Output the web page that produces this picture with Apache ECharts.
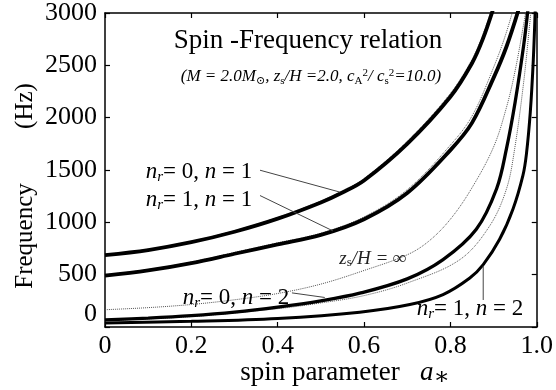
<!DOCTYPE html>
<html>
<head>
<meta charset="utf-8">
<script src="https://cdn.jsdelivr.net/npm/echarts@6/dist/echarts.min.js"></script>
<style>
  html, body { margin: 0; padding: 0; background: #fff; }
  #main { width: 556px; height: 390px; }
</style>
</head>
<body>
<div id="main"></div>
<script>
// spin parameter samples + frequency (Hz), one pair per curve
const aN01 = [0, 0.1, 0.2, 0.3, 0.4, 0.5, 0.55, 0.6, 0.7, 0.8, 0.85, 0.875, 0.9]
const fN01 = [687, 735, 810, 910, 1035, 1190, 1285, 1400, 1750, 2200, 2520, 2750, 3050]
const fN01inf = [693, 742, 818, 920, 1047, 1204, 1300, 1418, 1775, 2232, 2555, 2790, 3095]

const aN11 = [0, 0.1, 0.2, 0.3, 0.4, 0.5, 0.6, 0.7, 0.8, 0.85, 0.9, 0.93, 0.96]
const fN11 = [490, 540, 610, 700, 790, 880, 1030, 1280, 1690, 1950, 2380, 2680, 3060]
const fN11inf = [498, 549, 620, 712, 804, 896, 1052, 1312, 1738, 2015, 2480, 2820, 3250]

const aZinf = [0, 0.1, 0.2, 0.3, 0.4, 0.5, 0.6, 0.7, 0.75, 0.8, 0.85, 0.9, 0.93, 0.95, 0.97, 0.98]
const fZinf = [165, 185, 215, 260, 320, 410, 540, 690, 820, 1030, 1330, 1720, 2100, 2450, 2900, 3150]

const aN02 = [0, 0.1, 0.2, 0.3, 0.4, 0.5, 0.59, 0.7, 0.783, 0.86, 0.907, 0.93, 0.95, 0.97, 0.98]
const fN02 = [69, 85, 108, 142, 190, 250, 323, 460, 644, 934, 1321, 1707, 2150, 2700, 3050]
const aN02thin = [0, 0.2, 0.4, 0.5, 0.6, 0.7, 0.822, 0.891, 0.93, 0.949, 0.97, 0.985, 0.99]
const fN02thin = [62, 100, 175, 230, 300, 420, 644, 966, 1321, 1707, 2350, 2950, 3150]

const aN12 = [0, 0.2, 0.4, 0.59, 0.706, 0.783, 0.845, 0.876, 0.914, 0.945, 0.968, 0.976, 0.985, 0.992, 0.997]
const fN12 = [38, 54, 82, 142, 215, 310, 468, 596, 838, 1128, 1449, 1650, 2050, 2550, 3100]

// leader lines from the labels to their curves (data coords)
const leaderN01 = [[0.359, 1498], [0.544, 1289]]
const leaderN11 = [[0.359, 1256], [0.528, 918]]
const leaderN02 = [[0.433, 326], [0.509, 282]]
const leaderN12 = [[0.876, 258], [0.876, 585]]

const serif = "'Liberation Serif', 'DejaVu Serif', serif"
const zip = (xs, ys) => xs.map((x, i) => [x, ys[i]])

const chart = echarts.init(document.getElementById('main'))

const thick = (name, a, f, w) => ({
  name, type: 'line', data: zip(a, f), showSymbol: false, smooth: 0.35,
  lineStyle: { color: '#000', width: w }, z: 3, silent: true
})
const thin = (name, a, f) => ({
  name, type: 'line', data: zip(a, f), showSymbol: false, smooth: 0.35,
  lineStyle: { color: '#555', width: 1, type: 'dotted' }, z: 2, silent: true
})
const leader = (d) => ({
  type: 'line', data: d, showSymbol: false, silent: true,
  lineStyle: { color: '#444', width: 1 }, z: 4
})

const axisCommon = {
  type: 'value',
  axisLine: { show: true, onZero: false, lineStyle: { color: '#000', width: 1.5 } },
  axisTick: { show: true, inside: true, length: 5, lineStyle: { color: '#000', width: 1.2 } },
  splitLine: { show: false }
}

const ital = { fontFamily: serif, fontSize: 23, fontStyle: 'italic', fill: '#000' }
const sub = { fontFamily: serif, fontSize: 15, fontStyle: 'italic', padding: [10, 0, 0, 0], fill: '#000' }
const nLabel = (text, x, y) => ({
  type: 'text', x, y, z: 10,
  style: { text, fontFamily: serif, fontSize: 23, fill: '#000', align: 'center', verticalAlign: 'middle', rich: { i: ital, r: sub } }
})

chart.setOption({
  animation: false,
  textStyle: { fontFamily: serif },
  grid: { left: 105, right: 19, top: 13, bottom: 63 },
  xAxis: [
    Object.assign({}, axisCommon, {
      position: 'bottom', min: 0, max: 1, interval: 0.2,
      axisLabel: {
        fontFamily: 'Liberation Serif', fontSize: 26, color: '#000', margin: 6,
        formatter: v => (v === 0 ? '0' : v.toFixed(1))
      }
    }),
    Object.assign({}, axisCommon, {
      position: 'top', min: 0, max: 1, interval: 0.2, axisLabel: { show: false }
    })
  ],
  yAxis: [
    Object.assign({}, axisCommon, {
      position: 'left', min: 0, max: 3000, interval: 500,
      axisLabel: {
        fontFamily: 'Liberation Serif', fontSize: 26, color: '#000', margin: 8, verticalAlignMinLabel: 'bottom',
        formatter: v => String(v)
      }
    }),
    Object.assign({}, axisCommon, {
      position: 'right', min: 0, max: 3000, interval: 500, axisLabel: { show: false }
    })
  ],
  series: [
    thin('n0n1 inf', aN01, fN01inf),
    thick('n_r=0, n=1', aN01, fN01, 3.8),
    thin('n1n1 inf', aN11, fN11inf),
    thick('n_r=1, n=1', aN11, fN11, 3.8),
    thin('z_s/H=inf', aZinf, fZinf),
    thin('n0n2 thin', aN02thin, fN02thin),
    thick('n_r=0, n=2', aN02, fN02, 3.3),
    thick('n_r=1, n=2', aN12, fN12, 3),
    leader(leaderN01),
    leader(leaderN11),
    leader(leaderN02),
    leader(leaderN12)
  ],
  graphic: [
    {
      type: 'text', x: 308, y: 41, z: 10,
      style: { text: 'Spin -Frequency relation', fontFamily: serif, fontSize: 27, fill: '#000', align: 'center', verticalAlign: 'middle' }
    },
    {
      type: 'text', x: 311, y: 77, z: 10,
      style: {
        text: '(M = 2.0M{s|⊙}, z{s|s}/H =2.0, c{s|A}{p|2}/ c{s|s}{p|2}=10.0)',
        fontFamily: serif, fontSize: 17, fontStyle: 'italic', fill: '#000',
        align: 'center', verticalAlign: 'middle',
        rich: {
          s: { fontFamily: serif, fontSize: 11, padding: [8, 0, 0, 0], fill: '#000' },
          p: { fontFamily: serif, fontSize: 11, padding: [0, 0, 8, 0], fill: '#000' }
        }
      }
    },
    {
      type: 'text', x: 25, y: 106, rotation: Math.PI / 2, z: 10,
      style: { text: '(Hz)', fontFamily: serif, fontSize: 25, fill: '#000', align: 'center', verticalAlign: 'middle' }
    },
    {
      type: 'text', x: 25, y: 236, rotation: Math.PI / 2, z: 10,
      style: { text: 'Frequency', fontFamily: serif, fontSize: 25, fill: '#000', align: 'center', verticalAlign: 'middle' }
    },
    {
      type: 'text', x: 345, y: 373, z: 10,
      style: {
        text: 'spin parameter   {i|a}{s|∗}', fontFamily: serif, fontSize: 27, fill: '#000', align: 'center', verticalAlign: 'middle',
        rich: {
          i: { fontFamily: serif, fontSize: 27, fontStyle: 'italic', fill: '#000' },
          s: { fontFamily: serif, fontSize: 24, padding: [10, 0, 0, 0], fill: '#000' }
        }
      }
    },
    nLabel('{i|n}{r|r}= 0, {i|n} = 1', 199, 172),
    nLabel('{i|n}{r|r}= 1, {i|n} = 1', 199, 200),
    nLabel('{i|n}{r|r}= 0, {i|n} = 2', 236, 298),
    {
      type: 'text', x: 373, y: 259, z: 10,
      style: { text: 'z{r|s}/H = ∞', fontFamily: serif, fontSize: 19, fontStyle: 'italic', fill: '#222', align: 'center', verticalAlign: 'middle',
        rich: { r: { fontFamily: serif, fontSize: 13, padding: [8, 0, 0, 0], fill: '#222' } } }
    },
    nLabel('{i|n}{r|r}= 1, {i|n} = 2', 470, 309)
  ]
})
</script>
</body>
</html>
